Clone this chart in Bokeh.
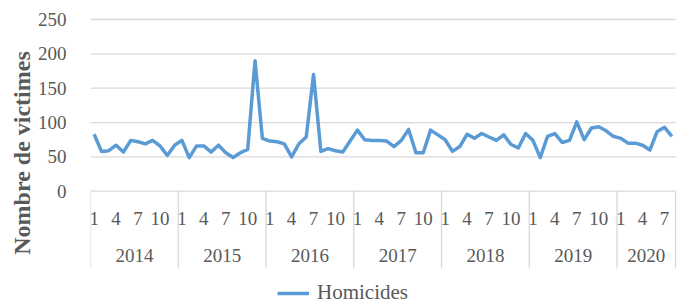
import numpy as np
from bokeh.plotting import figure
from bokeh.models import Range1d, FixedTicker, Legend, LegendItem
from bokeh.core.properties import value
from bokeh.embed import file_html
from bokeh.resources import INLINE

# ---------------- data ----------------
years = ["2014", "2015", "2016", "2017", "2018", "2019", "2020"]
months_per_year = [12, 12, 12, 12, 12, 12, 8]
month_tick_labels = [1, 4, 7, 10]
homicides = [
    83, 58, 59, 67, 57, 74, 72, 69, 74, 66, 52, 67,    # 2014
    74, 49, 66, 66, 57, 67, 56, 49, 56, 61, 190, 77,   # 2015
    73, 72, 69, 50, 69, 79, 170, 58, 62, 59, 57, 73,   # 2016
    89, 75, 74, 74, 73, 65, 74, 90, 56, 56, 89, 82,    # 2017
    75, 58, 65, 83, 77, 84, 79, 74, 82, 68, 63, 84,    # 2018
    74, 49, 80, 84, 71, 74, 101, 75, 92, 94, 88, 80,   # 2019
    77, 70, 70, 67, 60, 87, 93, 80,                    # 2020
]
y_ticks = [0, 50, 100, 150, 200, 250]
series_name = "Homicides"
y_title = "Nombre de victimes"

# ---------------- style ----------------
FONT = "Liberation Serif"
TXT = "#595959"
GRID = "#d9d9d9"
LINE = "#5b9bd5"

n = len(homicides)
x = np.arange(n)
starts = np.concatenate([[0], np.cumsum(months_per_year)[:-1]])
bounds = [s - 0.5 for s in starts] + [n - 0.5]

MONTH_Y = -39.8
YEAR_Y = -93.6
SEP_BOTTOM = -112.6

p = figure(width=683, height=305, output_backend="svg", toolbar_location=None,
           x_range=Range1d(-0.5, 80.59), y_range=Range1d(-166.4, 277.7),
           min_border_left=90, min_border_right=0, min_border_top=0, min_border_bottom=0)
p.outline_line_color = None
p.grid.visible = False
p.xaxis.visible = False

ya = p.yaxis[0]
ya.ticker = FixedTicker(ticks=y_ticks)
ya.axis_line_color = None
ya.major_tick_line_color = None
ya.minor_tick_line_color = None
ya.major_label_text_font = FONT
ya.major_label_text_font_size = "19px"
ya.major_label_text_color = TXT
ya.major_label_standoff = 18
ya.axis_label = y_title
ya.axis_label_text_font = FONT
ya.axis_label_text_font_style = "bold"
ya.axis_label_text_font_size = "24px"
ya.axis_label_text_color = TXT
ya.axis_label_standoff = 0

# gridlines (horizontal)
p.segment(x0=[-0.5] * len(y_ticks), x1=[n - 0.5] * len(y_ticks), y0=y_ticks, y1=y_ticks,
          line_color=GRID, line_width=1.3)
# category separators
p.segment(x0=bounds, x1=bounds, y0=[0] * len(bounds), y1=[SEP_BOTTOM] * len(bounds),
          line_color=GRID, line_width=1.3)

# month labels
mx, mt = [], []
for s, cnt in zip(starts, months_per_year):
    for m in month_tick_labels:
        if m <= cnt:
            mx.append(s + m - 1)
            mt.append(str(m))
p.text(x=mx, y=[MONTH_Y] * len(mx), text=mt, text_font=value(FONT), text_font_size="19px",
       text_color=TXT, text_align="center", text_baseline="middle")

# year labels
yx = [s + (c - 1) / 2 for s, c in zip(starts, months_per_year)]
p.text(x=yx, y=[YEAR_Y] * len(yx), text=years, text_font=value(FONT), text_font_size="19px",
       text_color=TXT, text_align="center", text_baseline="middle")

# series
r = p.line(x, homicides, line_color=LINE, line_width=3.5, line_join="round")

legend = Legend(items=[LegendItem(label=series_name, renderers=[r])],
                location=(187, 0), orientation="horizontal",
                glyph_width=32, glyph_height=18, label_standoff=8, label_height=18,
                label_text_font=FONT, label_text_font_size="21px", label_text_color=TXT,
                padding=0, margin=0, border_line_color=None, background_fill_alpha=0)
p.add_layout(legend)

open("out.html", "w").write(file_html(p, INLINE))
